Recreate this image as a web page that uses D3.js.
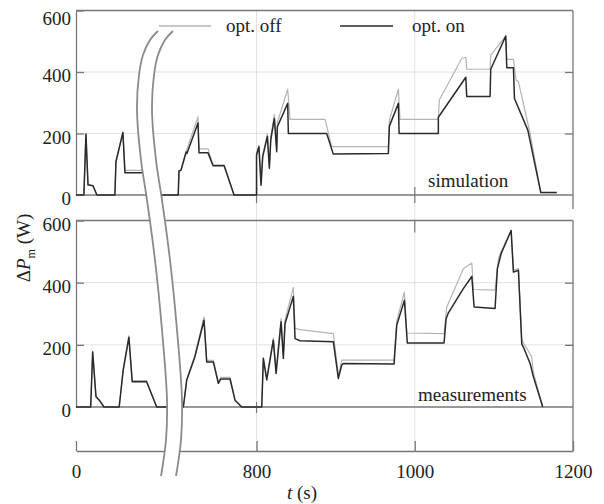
<!DOCTYPE html>
<html>
<head>
<meta charset="utf-8">
<script src="https://cdn.jsdelivr.net/npm/d3@7"></script>
<style>
  body { margin: 0; background: #fff; }
  svg text { font-family: "Liberation Serif", "Times New Roman", serif; fill: #222; }
</style>
</head>
<body>
<svg id="chart" width="604" height="504"></svg>
<script>
'use strict'

/****** DATA ******/

// [t (s), ΔPm (W)]
const simOff = [[0,0],[10,0],[12.6,198],[15.2,33],[21.5,30],[26.5,0],[49.3,0],[50.6,110],[59.4,205],[62,80],[95,80],
  [672,0],[701,0],[702,80],[704.5,82],[711,142],[726,254],[727.3,150],[738.7,150],[745,98],[759,98],[771.6,0],[800,0],
  [800,135],[803,162],[805.7,40],[807.8,130],[813.7,200],[816.2,95],[818,190],[822.5,262],[825.5,150],[826.3,235],
  [839.4,344],[842.4,246],[886.6,246],[895,157],[966.6,157],[967.9,244],[979.3,344],[981.4,246],[1029.8,246],
  [1031,309],[1059.4,444],[1064.5,448],[1065.7,409],[1095.2,409],[1096,455],[1115,517],[1116.3,441],[1124.7,441],
  [1128,374],[1131,369],[1145.8,200],[1159.3,8],[1179.5,8]]

const simOn = [[0,0],[10,0],[12.6,198],[15.2,33],[21.5,30],[26.5,0],[49.3,0],[50.6,108],[59.4,203],[62,72],[95,72],
  [672,0],[701,0],[702,78],[704.5,80],[711,140],[712,135],[726,234],[727.3,137],[738.7,137],[745,95],[759,95],
  [771.6,0],[800,0],[800,130],[803,157],[805.7,32],[807.8,125],[813.7,190],[816.2,87],[818,179],[822.5,249],
  [825.5,141],[826.3,222],[839.4,298],[840.2,200],[888.7,200],[897,133],[966.6,135],[967.9,224],[979.3,298],
  [980.2,200],[1029.8,200],[1029.8,253],[1064.5,383],[1065.7,320],[1095.2,320],[1096,409],[1115,517],
  [1116.3,414],[1124.7,414],[1126,314],[1142.9,211],[1159.3,8],[1179.5,8]]

const measOff = [[0,0],[18.6,0],[21.1,180],[25.3,35],[29.5,22],[35.4,0],[54.7,0],[59.8,122],[67,230],[71.2,85],
  [89.4,85],[667.5,40],[673.8,0],[707.5,0],[711.8,90],[722,165],[733.6,290],[737,150],[745.4,150],[751.7,80],
  [754.7,95],[766.5,95],[772.8,22],[781.3,0],[806.6,0],[808.6,160],[812.9,92],[821.2,222],[824.7,115],[831,285],
  [833.9,165],[836,280],[846.5,385],[848.7,253],[855,249],[897.1,236],[903.4,100],[907.7,151],[973.8,151],
  [977.2,276],[986.9,370],[989.9,238],[1037,236],[1040.5,322],[1061.4,445],[1072.1,463],[1074.1,378],
  [1101.5,376],[1105.7,477],[1109.1,500],[1121.8,568],[1124.7,440],[1131,445],[1135.3,215],[1147.9,161],
  [1150,110],[1161.8,0]]

const measOn = [[0,0],[18.6,0],[21.1,177],[25.3,33],[29.5,22],[35.4,0],[54.7,0],[59.8,119],[67,224],[71.2,81],
  [89.4,81],[667.5,40],[673.8,0],[707.5,0],[711.8,87],[722,161],[733.6,279],[737,145],[745.4,145],[751.7,76],
  [754.7,90],[766.5,90],[772.8,22],[781.3,0],[806.6,0],[808.6,156],[812.9,87],[821.2,215],[824.7,108],[831,274],
  [833.9,156],[836,268],[846.5,356],[848.7,220],[855,213],[897.1,210],[903.4,92],[907.7,135],[909.7,140],
  [973.8,138],[977.2,263],[986.9,343],[990.6,206],[1037,206],[1039.6,284],[1042.5,303],[1061.4,381],
  [1072.1,420],[1075,322],[1101.5,317],[1104.4,445],[1109.1,493],[1121.8,568],[1124.7,434],[1131,440],
  [1135.3,202],[1137.3,193],[1145.8,140],[1150,97],[1161.8,0]]

const xTicks = [0, 800, 1000, 1200]
const xGrid = [800, 1000]
const yTicks = [0, 200, 400, 600]
const yGrid = [200, 400]

// axis break: x of left edge of the cut for a given screen y
const cutPts = [[31,158],[40,150],[55,143],[75,139],[110,137],[160,141],[200,147],[260,155],[330,162],[400,167],[440,166],[476,161]]
const CUT_W = 15

/****** SCALES ******/

const AXIS = '#777'
const GRID = '#e2e2e2'
const OFF_C = '#b4b4b4'
const ON_C = '#2a2a2a'

// broken time axis: 95 s .. 666.6 s squeezed out
const x = d3.scaleLinear().domain([0, 95, 666.6, 1200]).range([76, 151, 151, 573])
const yTop = d3.scaleLinear().domain([0, 600]).range([195, 10.5])
const yBot = d3.scaleLinear().domain([0, 600]).range([407, 220.5])
const xAxisY = 451

const svg = d3.select('#chart')

/****** GRID ******/

const grid = svg.append('g').attr('stroke', GRID).attr('stroke-width', 1)
grid.selectAll('.vg').data(xGrid).join('line')
  .attr('x1', d => x(d)).attr('x2', d => x(d))
  .attr('y1', yTop(600)).attr('y2', xAxisY)

for (const y of [yTop, yBot]) {
  grid.append('g').selectAll('line').data(yGrid).join('line')
    .attr('x1', x(0)).attr('x2', x(1200))
    .attr('y1', d => y(d)).attr('y2', d => y(d))
}

/****** FRAMES / AXES ******/

function styleAxis(g) {
  g.attr('font-family', null).attr('font-size', null)
  g.selectAll('path, line').attr('stroke', AXIS).attr('stroke-width', 1.3)
  g.selectAll('text').attr('font-size', 19).attr('fill', '#222')
}

function panel(y, bottomRight) {
  const g = svg.append('g')
  // left axis with labels, inward ticks
  g.append('g').attr('transform', `translate(${x(0)},0)`)
    .call(d3.axisLeft(y).tickValues(yTicks).tickSizeInner(-8).tickSizeOuter(0).tickPadding(5))
    .call(styleAxis)
    .call(a => a.selectAll('.tick').filter(d => d === 0).select('line').remove())
    .call(a => a.selectAll('text').attr('dy', d => d === 600 && y === yTop ? '0.75em' : '0.5em'))
  // right side ticks
  g.append('g').attr('transform', `translate(${x(1200)},0)`)
    .call(d3.axisRight(y).tickValues(yGrid).tickSizeInner(-8).tickSizeOuter(0).tickFormat(''))
    .call(styleAxis)
    .call(a => a.select('.domain').remove())
  // top edge
  g.append('line').attr('x1', x(0)).attr('x2', x(1200)).attr('y1', y(600)).attr('y2', y(600))
    .attr('stroke', AXIS).attr('stroke-width', 1.3)
  // right edge
  g.append('line').attr('x1', x(1200)).attr('x2', x(1200)).attr('y1', y(600)).attr('y2', bottomRight)
    .attr('stroke', AXIS).attr('stroke-width', 1.3)
  // zero line
  g.append('line').attr('x1', x(0)).attr('x2', x(1200)).attr('y1', y(0)).attr('y2', y(0))
    .attr('stroke', AXIS).attr('stroke-width', 1.3)
  return g
}

panel(yTop, 209)
panel(yBot, xAxisY)

// small x ticks inside the panels
const smallTicks = [
  { t: 800, y1: yTop(0) - 8, y2: yTop(0) + 8 },
  { t: 1000, y1: yTop(0) - 8, y2: yTop(0) + 8 },
  { t: 1000, y1: yBot(600), y2: yBot(600) + 12 },
  { t: 800, y1: yBot(0) - 5, y2: yBot(0) + 6 }
]
svg.append('g').selectAll('line').data(smallTicks).join('line')
  .attr('x1', d => x(d.t)).attr('x2', d => x(d.t))
  .attr('y1', d => d.y1).attr('y2', d => d.y2)
  .attr('stroke', AXIS).attr('stroke-width', 1.2)

// bottom time axis
svg.append('g').attr('transform', `translate(0,${xAxisY})`)
  .call(d3.axisBottom(x).tickValues(xTicks).tickFormat(d3.format('d'))
    .tickSizeInner(-10).tickSizeOuter(0).tickPadding(14))
  .call(styleAxis)

/****** DATA LINES ******/

function drawLines(y, series) {
  const line = d3.line().x(d => x(d[0])).y(d => y(d[1]))
  svg.append('g').selectAll('path').data(series).join('path')
    .attr('fill', 'none')
    .attr('stroke', d => d.color)
    .attr('stroke-width', d => d.width)
    .attr('stroke-linejoin', 'round')
    .attr('d', d => line(d.values))
}

drawLines(yTop, [{ values: simOff, color: OFF_C, width: 1.2 }, { values: simOn, color: ON_C, width: 1.5 }])
drawLines(yBot, [{ values: measOff, color: OFF_C, width: 1.2 }, { values: measOn, color: ON_C, width: 1.5 }])

/****** AXIS BREAK ******/

const cutArea = d3.area().curve(d3.curveCatmullRom)
  .y(d => d[0]).x0(d => d[1]).x1(d => d[1] + CUT_W)
svg.append('path').attr('d', cutArea(cutPts)).attr('fill', '#fff')

const cutLine = d3.line().curve(d3.curveCatmullRom)
svg.append('g').selectAll('path').data([0, CUT_W]).join('path')
  .attr('fill', 'none').attr('stroke', '#8a8a8a').attr('stroke-width', 1.8)
  .attr('d', off => cutLine(cutPts.map(p => [p[1] + off, p[0]])))

/****** LEGEND & LABELS ******/

const legend = [
  { label: 'opt. off', color: OFF_C, x1: 159, x2: 211, tx: 226 },
  { label: 'opt. on', color: ON_C, x1: 340, x2: 393, tx: 412 }
]
const lg = svg.append('g').selectAll('g').data(legend).join('g')
lg.append('line')
  .attr('x1', d => d.x1).attr('x2', d => d.x2).attr('y1', 26).attr('y2', 26)
  .attr('stroke', d => d.color).attr('stroke-width', 1.6)
lg.append('text').attr('x', d => d.tx).attr('y', 32).attr('font-size', 19).text(d => d.label)

svg.append('text').attr('x', 428).attr('y', 187).attr('font-size', 19).text('simulation')
svg.append('text').attr('x', 418).attr('y', 401).attr('font-size', 19).text('measurements')

const yl = svg.append('text')
  .attr('transform', 'translate(30,248) rotate(-90)')
  .attr('text-anchor', 'middle').attr('font-size', 19)
yl.append('tspan').text('Δ')
yl.append('tspan').attr('font-style', 'italic').text('P')
yl.append('tspan').attr('font-size', 12).attr('dy', 5).text('m')
yl.append('tspan').attr('dy', -5).text(' (W)')

const xl = svg.append('text').attr('x', 302).attr('y', 499).attr('text-anchor', 'middle').attr('font-size', 19)
xl.append('tspan').attr('font-style', 'italic').text('t')
xl.append('tspan').text(' (s)')
</script>
</body>
</html>
